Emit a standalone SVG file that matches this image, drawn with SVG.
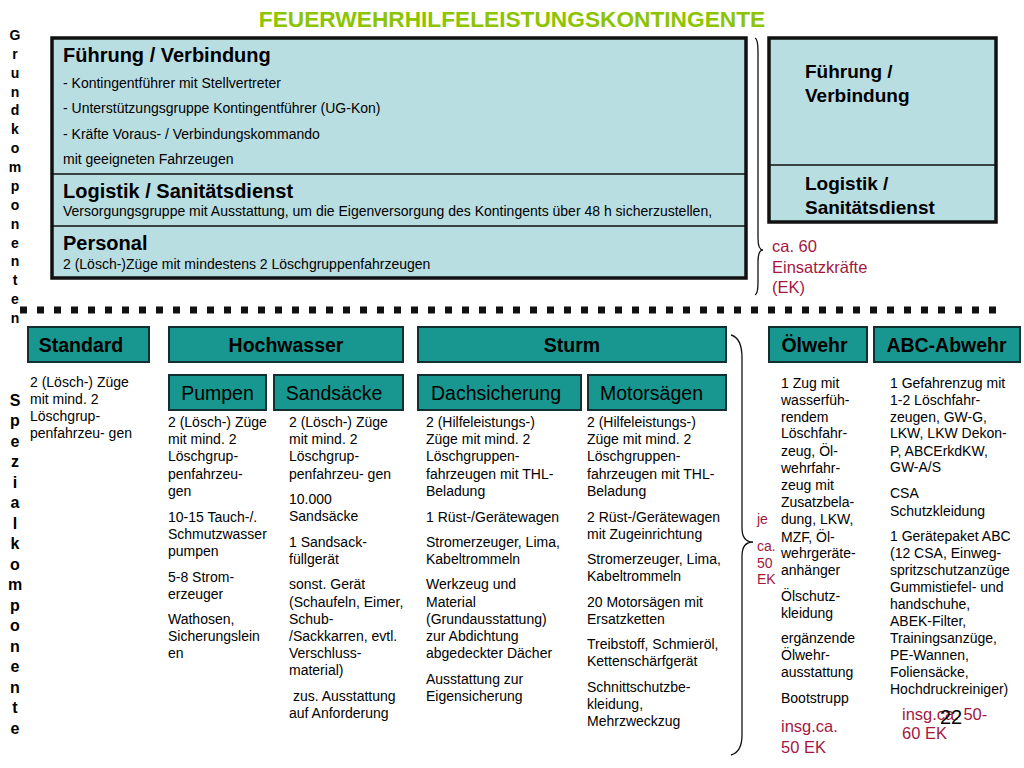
<svg xmlns="http://www.w3.org/2000/svg" width="1024" height="768" viewBox="0 0 1024 768">
<style>
text{font-family:"Liberation Sans",Arial,sans-serif;fill:#000}
.title{font-size:22.7px;font-weight:bold;fill:#8cc400}
.h1{font-size:20px;font-weight:bold}
.h2{font-size:19px;font-weight:bold}
.t14{font-size:14px}
.vert{font-size:14px;font-weight:bold;text-anchor:middle}
.vert2{font-size:16px;font-weight:bold;text-anchor:middle}
.red{fill:#a3173f}
.big{font-size:16.5px}
.hdr{fill:#17978f;stroke:#123030;stroke-width:2}
.hb{font-size:19.5px;font-weight:bold;text-anchor:middle}
.hr{font-size:19.5px;text-anchor:middle}
.panel{fill:#b9dee2;stroke:#111;stroke-width:3.5}
.sep{stroke:#111;stroke-width:1.5}
.brace{fill:none;stroke:#111;stroke-width:1.3}
</style>
<rect width="1024" height="768" fill="#fff"/>
<text class="title" x="512" y="27" text-anchor="middle">FEUERWEHRHILFELEISTUNGSKONTINGENTE</text>

<g id="label-grund">
<text class="vert" x="15"><tspan x="15" y="40">G</tspan><tspan x="15" y="59">r</tspan><tspan x="15" y="78">u</tspan><tspan x="15" y="97">n</tspan><tspan x="15" y="115">d</tspan><tspan x="15" y="134">k</tspan><tspan x="15" y="153">o</tspan><tspan x="15" y="172">m</tspan><tspan x="15" y="191">p</tspan><tspan x="15" y="210">o</tspan><tspan x="15" y="229">n</tspan><tspan x="15" y="248">e</tspan><tspan x="15" y="266">n</tspan><tspan x="15" y="285">t</tspan><tspan x="15" y="304">e</tspan><tspan x="15" y="323">n</tspan></text>
</g>

<g id="grundkomponenten">
<rect class="panel" x="52" y="38" width="694" height="240"/>
<line class="sep" x1="52" y1="174" x2="746" y2="174"/>
<line class="sep" x1="52" y1="226" x2="746" y2="226"/>
<text class="h1" x="63" y="62">Führung / Verbindung</text>
<text class="t14" x="63" y="88">- Kontingentführer mit Stellvertreter</text>
<text class="t14" x="63" y="113">- Unterstützungsgruppe Kontingentführer (UG-Kon)</text>
<text class="t14" x="63" y="139">- Kräfte Voraus- / Verbindungskommando</text>
<text class="t14" x="63" y="164">mit geeigneten Fahrzeugen</text>
<text class="h1" x="63" y="198">Logistik / Sanitätsdienst</text>
<text class="t14" x="63" y="216">Versorgungsgruppe mit Ausstattung, um die Eigenversorgung des Kontingents über 48 h sicherzustellen,</text>
<text class="h1" x="63" y="250">Personal</text>
<text class="t14" x="63" y="269">2 (Lösch-)Züge mit mindestens 2 Löschgruppenfahrzeugen</text>
</g>

<g id="summary-box">
<rect class="panel" x="769" y="38" width="227" height="184"/>
<line class="sep" x1="769" y1="165" x2="996" y2="165"/>
<text class="h2" x="805" y="78">Führung /</text>
<text class="h2" x="805" y="102">Verbindung</text>
<text class="h2" x="805" y="190">Logistik /</text>
<text class="h2" x="805" y="214">Sanitätsdienst</text>
</g>

<g id="ek-top">
<text class="red big" x="772"><tspan x="772" y="252">ca. 60</tspan><tspan x="772" y="273">Einsatzkräfte</tspan><tspan x="772" y="293">(EK)</tspan></text>
</g>

<g id="braces">
<path class="brace" d="M755,38 Q758,39 758,52 L758,238 Q758,250 763,250 Q758,250 758,262 L758,282 Q758,294 755,295"/>
<path class="brace" d="M731,335 Q742,338 742,358 L742,528 Q742,542 753,542 Q742,542 742,556 L742,735 Q742,752 731,755"/>
</g>

<g id="divider">
<line x1="20" y1="310" x2="1000" y2="310" stroke="#111" stroke-width="7" stroke-dasharray="7 10"/>
</g>

<g id="label-spezial">
<text class="vert2" x="15"><tspan x="15" y="406">S</tspan><tspan x="15" y="426">p</tspan><tspan x="15" y="447">e</tspan><tspan x="15" y="467">z</tspan><tspan x="15" y="488">i</tspan><tspan x="15" y="508">a</tspan><tspan x="15" y="529">l</tspan><tspan x="15" y="549">k</tspan><tspan x="15" y="570">o</tspan><tspan x="15" y="590">m</tspan><tspan x="15" y="611">p</tspan><tspan x="15" y="631">o</tspan><tspan x="15" y="652">n</tspan><tspan x="15" y="672">e</tspan><tspan x="15" y="693">n</tspan><tspan x="15" y="713">t</tspan><tspan x="15" y="734">e</tspan></text>
</g>

<g id="standard">
<rect class="hdr" x="28" y="327" width="121" height="35"/>
<text class="hb" x="81" y="352">Standard</text>
<text class="t14" x="30"><tspan x="30" y="387">2 (Lösch-) Züge</tspan><tspan x="30" y="404">mit mind. 2</tspan><tspan x="30" y="421">Löschgrup-</tspan><tspan x="30" y="438">penfahrzeu- gen</tspan></text>
</g>

<g id="hochwasser">
<rect class="hdr" x="169" y="327" width="234" height="35"/>
<text class="hb" x="286" y="352">Hochwasser</text>
</g>

<g id="pumpen">
<rect class="hdr" x="169" y="375" width="97" height="35"/>
<text class="hr" x="217.5" y="400">Pumpen</text>
<text class="t14" x="168"><tspan x="168" y="427">2 (Lösch-) Züge</tspan><tspan x="168" y="444">mit mind. 2</tspan><tspan x="168" y="461">Löschgrup-</tspan><tspan x="168" y="479">penfahrzeu-</tspan><tspan x="168" y="496">gen</tspan><tspan x="168" y="522">10-15 Tauch-/.</tspan><tspan x="168" y="539">Schmutzwasser</tspan><tspan x="168" y="556">pumpen</tspan><tspan x="168" y="582">5-8 Strom-</tspan><tspan x="168" y="599">erzeuger</tspan><tspan x="168" y="624">Wathosen,</tspan><tspan x="168" y="641">Sicherungslein</tspan><tspan x="168" y="658">en</tspan></text>
</g>

<g id="sandsaecke">
<rect class="hdr" x="274" y="375" width="129" height="35"/>
<text class="hr" x="334" y="400">Sandsäcke</text>
<text class="t14" x="289"><tspan x="289" y="427">2 (Lösch-) Züge</tspan><tspan x="289" y="444">mit mind. 2</tspan><tspan x="289" y="461">Löschgrup-</tspan><tspan x="289" y="479">penfahrzeu- gen</tspan><tspan x="289" y="504">10.000</tspan><tspan x="289" y="521">Sandsäcke</tspan><tspan x="289" y="547">1 Sandsack-</tspan><tspan x="289" y="564">füllgerät</tspan><tspan x="289" y="589">sonst. Gerät</tspan><tspan x="289" y="607">(Schaufeln, Eimer,</tspan><tspan x="289" y="624">Schub-</tspan><tspan x="289" y="641">/Sackkarren, evtl.</tspan><tspan x="289" y="658">Verschluss-</tspan><tspan x="289" y="675">material)</tspan><tspan x="289" y="701"> zus. Ausstattung</tspan><tspan x="289" y="718">auf Anforderung</tspan></text>
</g>

<g id="sturm">
<rect class="hdr" x="418" y="327" width="308" height="35"/>
<text class="hb" x="572" y="352">Sturm</text>
</g>

<g id="dachsicherung">
<rect class="hdr" x="418" y="375" width="163" height="35"/>
<text class="hr" x="496" y="400">Dachsicherung</text>
<text class="t14" x="426"><tspan x="426" y="427">2 (Hilfeleistungs-)</tspan><tspan x="426" y="444">Züge mit mind. 2</tspan><tspan x="426" y="461">Löschgruppen-</tspan><tspan x="426" y="479">fahrzeugen mit THL-</tspan><tspan x="426" y="496">Beladung</tspan><tspan x="426" y="522">1 Rüst-/Gerätewagen</tspan><tspan x="426" y="547">Stromerzeuger, Lima,</tspan><tspan x="426" y="564">Kabeltrommeln</tspan><tspan x="426" y="589">Werkzeug und</tspan><tspan x="426" y="607">Material</tspan><tspan x="426" y="624">(Grundausstattung)</tspan><tspan x="426" y="641">zur Abdichtung</tspan><tspan x="426" y="658">abgedeckter Dächer</tspan><tspan x="426" y="684">Ausstattung zur</tspan><tspan x="426" y="701">Eigensicherung</tspan></text>
</g>

<g id="motorsaegen">
<rect class="hdr" x="588" y="375" width="138" height="35"/>
<text class="hr" x="651.5" y="400">Motorsägen</text>
<text class="t14" x="587"><tspan x="587" y="427">2 (Hilfeleistungs-)</tspan><tspan x="587" y="444">Züge mit mind. 2</tspan><tspan x="587" y="461">Löschgruppen-</tspan><tspan x="587" y="479">fahrzeugen mit THL-</tspan><tspan x="587" y="496">Beladung</tspan><tspan x="587" y="522">2 Rüst-/Gerätewagen</tspan><tspan x="587" y="539">mit Zugeinrichtung</tspan><tspan x="587" y="564">Stromerzeuger, Lima,</tspan><tspan x="587" y="581">Kabeltrommeln</tspan><tspan x="587" y="607">20 Motorsägen mit</tspan><tspan x="587" y="624">Ersatzketten</tspan><tspan x="587" y="649">Treibstoff, Schmieröl,</tspan><tspan x="587" y="666">Kettenschärfgerät</tspan><tspan x="587" y="692">Schnittschutzbe-</tspan><tspan x="587" y="709">kleidung,</tspan><tspan x="587" y="726">Mehrzweckzug</tspan></text>
</g>

<g id="ek-special">
<text class="red t14" x="757"><tspan x="757" y="524">je</tspan><tspan x="757" y="551">ca.</tspan><tspan x="757" y="568">50</tspan><tspan x="757" y="584">EK</tspan></text>
</g>

<g id="oelwehr">
<rect class="hdr" x="769" y="327" width="98" height="35"/>
<text class="hb" x="814.5" y="352">Ölwehr</text>
<text class="t14" x="781"><tspan x="781" y="388">1 Zug mit</tspan><tspan x="781" y="405">wasserfüh-</tspan><tspan x="781" y="422">rendem</tspan><tspan x="781" y="438">Löschfahr-</tspan><tspan x="781" y="456">zeug, Öl-</tspan><tspan x="781" y="473">wehrfahr-</tspan><tspan x="781" y="490">zeug mit</tspan><tspan x="781" y="507">Zusatzbela-</tspan><tspan x="781" y="524">dung, LKW,</tspan><tspan x="781" y="542">MZF, Öl-</tspan><tspan x="781" y="558">wehrgeräte-</tspan><tspan x="781" y="575">anhänger</tspan><tspan x="781" y="601">Ölschutz-</tspan><tspan x="781" y="618">kleidung</tspan><tspan x="781" y="643">ergänzende</tspan><tspan x="781" y="660">Ölwehr-</tspan><tspan x="781" y="677">ausstattung</tspan><tspan x="781" y="703">Bootstrupp</tspan></text>
<text class="red big" x="781"><tspan x="781" y="732">insg.ca.</tspan><tspan x="781" y="753">50 EK</tspan></text>
</g>

<g id="abc-abwehr">
<rect class="hdr" x="874" y="327" width="146" height="35"/>
<text class="hb" x="946.5" y="352">ABC-Abwehr</text>
<text class="t14" x="890"><tspan x="890" y="388">1 Gefahrenzug mit</tspan><tspan x="890" y="405">1-2 Löschfahr-</tspan><tspan x="890" y="422">zeugen, GW-G,</tspan><tspan x="890" y="438">LKW, LKW Dekon-</tspan><tspan x="890" y="456">P, ABCErkdKW,</tspan><tspan x="890" y="472">GW-A/S</tspan><tspan x="890" y="498">CSA</tspan><tspan x="890" y="516">Schutzkleidung</tspan><tspan x="890" y="541">1 Gerätepaket ABC</tspan><tspan x="890" y="558">(12 CSA, Einweg-</tspan><tspan x="890" y="575">spritzschutzanzüge</tspan><tspan x="890" y="592">Gummistiefel- und</tspan><tspan x="890" y="609">handschuhe,</tspan><tspan x="890" y="626">ABEK-Filter,</tspan><tspan x="890" y="643">Trainingsanzüge,</tspan><tspan x="890" y="660">PE-Wannen,</tspan><tspan x="890" y="677">Foliensäcke,</tspan><tspan x="890" y="694">Hochdruckreiniger)</tspan></text>
<text class="red big" x="902"><tspan x="902" y="720">insg.ca. 50-</tspan><tspan x="902" y="739">60 EK</tspan></text>
</g>

<text x="940" y="724" style="font-size:20px">22</text>
</svg>
